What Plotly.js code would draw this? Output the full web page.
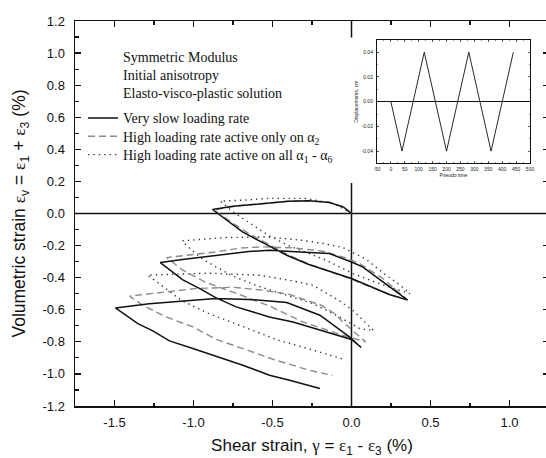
<!DOCTYPE html>
<html>
<head>
<meta charset="utf-8">
<script src="https://cdn.plot.ly/plotly-3.0.1.min.js"></script>
<style>
html,body{margin:0;padding:0;overflow:hidden;background:#fff;}
#chart{width:550px;height:458px;}
</style>
</head>
<body>
<div id="chart"></div>
<script>
// ---------- data: very slow loading rate (solid) ----------
const solidX = [0, -0.05, -0.14, -0.27, -0.40, -0.54, -0.75, -0.88,
  -0.79, -0.69, -0.54, -0.41, -0.27, 0, 0.24, 0.355,
  0.30, 0.07, 0, -0.14, -0.27, -0.52, -0.65, -0.86, -1.07, -1.21,
  -1.15, -1.07, -0.96, -0.86, -0.73, -0.52, -0.37, -0.16, 0, 0.061,
  -0.013, -0.2, -0.41, -0.52, -0.65, -0.86, -1.07, -1.28, -1.494,
  -1.426, -1.352, -1.258, -1.152, -1.004, -0.835, -0.688, -0.519, -0.392, -0.2];
const solidY = [0, 0.04, 0.068, 0.08, 0.076, 0.062, 0.045, 0.025,
  -0.04, -0.115, -0.193, -0.26, -0.318, -0.405, -0.505, -0.54,
  -0.499, -0.333, -0.302, -0.25, -0.243, -0.229, -0.237, -0.26, -0.287, -0.306,
  -0.353, -0.412, -0.468, -0.524, -0.582, -0.645, -0.676, -0.738, -0.785, -0.835,
  -0.769, -0.634, -0.555, -0.545, -0.536, -0.53, -0.545, -0.563, -0.589,
  -0.634, -0.686, -0.732, -0.794, -0.842, -0.898, -0.946, -1.008, -1.039, -1.091];

// ---------- data: high loading rate active only on alpha2 (dashed) ----------
const dashX = [0, -0.05, -0.14, -0.27, -0.40, -0.54, -0.72, -0.87,
  -0.76, -0.65, -0.52, -0.40, -0.27, 0, 0.24, 0.35,
  0.198, 0.051, -0.034, -0.181, -0.37, -0.56, -0.70, -0.856, -1.17,
  -1.068, -0.92, -0.709, -0.50, -0.308, -0.15, -0.055, 0.09,
  0.019, -0.055, -0.108, -0.192, -0.287, -0.392, -0.561, -0.75, -0.99, -1.2, -1.405,
  -1.321, -1.173, -1.004, -0.856, -0.688, -0.477, -0.266, -0.12];
const dashY = [0, 0.042, 0.07, 0.08, 0.076, 0.064, 0.048, 0.022,
  -0.055, -0.125, -0.195, -0.258, -0.315, -0.41, -0.505, -0.535,
  -0.405, -0.312, -0.277, -0.235, -0.214, -0.208, -0.215, -0.239, -0.275,
  -0.353, -0.43, -0.505, -0.585, -0.676, -0.728, -0.759, -0.80,
  -0.738, -0.676, -0.623, -0.572, -0.541, -0.505, -0.478, -0.46, -0.468, -0.49, -0.515,
  -0.572, -0.645, -0.707, -0.785, -0.842, -0.915, -0.977, -1.01];

// ---------- data: high loading rate active on all alpha1 - alpha6 (dotted) ----------
const dotX = [0, -0.11, -0.29, -0.44, -0.54, -0.65, -0.83,
  -0.75, -0.63, -0.52, -0.40, -0.16, 0.008, 0.156, 0.37,
  0.304, 0.219, 0.093, -0.055, -0.18, -0.33, -0.54, -0.8, -1.07,
  -1.046, -0.962, -0.878, -0.75, -0.6, -0.4, -0.245, -0.16, -0.076, 0.051, 0.14,
  0.093, 0.019, -0.065, -0.16, -0.245, -0.371, -0.582, -0.9, -1.29,
  -1.19, -1.08, -0.905, -0.685, -0.465, -0.245, -0.035];
const dotY = [0, 0.062, 0.094, 0.094, 0.094, 0.085, 0.077,
  0.01, -0.07, -0.14, -0.2, -0.291, -0.374, -0.43, -0.50,
  -0.443, -0.385, -0.285, -0.212, -0.187, -0.165, -0.146, -0.15, -0.17,
  -0.198, -0.27, -0.322, -0.39, -0.45, -0.515, -0.561, -0.603, -0.645, -0.717, -0.73,
  -0.686, -0.613, -0.551, -0.495, -0.447, -0.42, -0.385, -0.372, -0.384,
  -0.457, -0.54, -0.623, -0.706, -0.789, -0.851, -0.913];

// ---------- inset: loading history ----------
const insetTime = [0, 40, 120, 200, 280, 360, 440];
const insetDisp = [0, -0.04, 0.04, -0.04, 0.04, -0.04, 0.04];

// ---------- labels ----------
const SERIF = 'Liberation Serif, Times New Roman, serif';
const SANS = 'Liberation Sans, Arial, sans-serif';
const g = s => '<span style="font-family:' + SERIF + '">' + s + '</span>';

const seriesNames = [
  'Very slow loading rate',
  'High loading rate active only on α<sub>2</sub>',
  'High loading rate active on all α<sub>1</sub> - α<sub>6</sub>'
];
const xTickVals = [-1.5, -1.0, -0.5, 0.0, 0.5, 1.0];
const xTickText = ['-1.5', '-1.0', '-0.5', '0.0', '0.5', '1.0'];
const yTickVals = [-1.2, -1.0, -0.8, -0.6, -0.4, -0.2, 0.0, 0.2, 0.4, 0.6, 0.8, 1.0, 1.2];
const yTickText = ['-1.2', '-1.0', '-0.8', '-0.6', '-0.4', '-0.2', '0.0', '0.2', '0.4', '0.6', '0.8', '1.0', '1.2'];
const insetXTickVals = [-50, 0, 50, 100, 150, 200, 250, 300, 350, 400, 450, 500];
const insetXTickText = ['-50', '0', '50', '100', '150', '200', '250', '300', '350', '400', '450', '500'];
const insetYTickVals = [-0.04, -0.02, 0, 0.02, 0.04];
const insetYTickText = ['-0.04', '-0.02', '0.00', '0.02', '0.04'];
const noteLines = ['Symmetric Modulus', 'Initial anisotropy', 'Elasto-visco-plastic solution'];
const xTitle = 'Shear strain, ' + g('γ') + ' = ' + g('ε') + '<sub>1</sub> - ' + g('ε') + '<sub>3</sub> (%)';
const yTitle = 'Volumetric strain ' + g('ε') + '<sub>v</sub> = ' + g('ε') + '<sub>1</sub> + ' + g('ε') + '<sub>3</sub> (%)';

const traces = [
  {x: dotX, y: dotY, mode: 'lines', name: seriesNames[2], legend: 'legend3',
   line: {color: '#3a3a3a', width: 1.4, dash: '1.4px,4px'}, xaxis: 'x', yaxis: 'y'},
  {x: dashX, y: dashY, mode: 'lines', name: seriesNames[1], legend: 'legend2',
   line: {color: '#8a8a8a', width: 1.4, dash: '7px,4px'}, xaxis: 'x', yaxis: 'y'},
  {x: solidX, y: solidY, mode: 'lines', name: seriesNames[0], legend: 'legend',
   line: {color: '#111111', width: 1.5}, xaxis: 'x', yaxis: 'y'},
  {x: insetTime, y: insetDisp, mode: 'lines', showlegend: false,
   line: {color: '#111111', width: 0.9}, xaxis: 'x2', yaxis: 'y2'}
];

const legendBase = {x: 0.0168, xanchor: 'left', yanchor: 'middle',
  bgcolor: 'rgba(0,0,0,0)', borderwidth: 0,
  font: {family: SERIF, size: 14, color: '#111111'}, itemwidth: 30};

const layout = {
  width: 550, height: 458,
  margin: {l: 75, r: 1, t: 21, b: 52, pad: 0, autoexpand: false},
  paper_bgcolor: '#ffffff', plot_bgcolor: '#ffffff',
  font: {family: SANS, color: '#111111', size: 13},
  showlegend: true,
  legend: Object.assign({}, legendBase, {y: 0.7473}),
  legend2: Object.assign({}, legendBase, {y: 0.6995}),
  legend3: Object.assign({}, legendBase, {y: 0.6519}),
  xaxis: {domain: [0, 1], range: [-1.75, 1.25], anchor: 'y', automargin: true,
          tickmode: 'array', tickvals: xTickVals, ticktext: xTickText,
          ticks: 'inside', ticklen: 6, tickwidth: 1.3, tickcolor: '#111',
          showline: true, linecolor: '#111', linewidth: 1.5, mirror: 'ticks',
          showgrid: false, zeroline: false,
          minor: {ticks: 'inside', ticklen: 3.5, tickwidth: 1.1, tickcolor: '#111', tick0: 0, dtick: 0.25, showgrid: false},
          tickfont: {family: SANS, size: 13, color: '#111'}, ticklabelstandoff: 4,
          title: {text: xTitle, font: {family: SANS, size: 17, color: '#111'}, standoff: 17}},
  yaxis: {domain: [0, 1], range: [-1.2, 1.2], anchor: 'x', automargin: true,
          tickmode: 'array', tickvals: yTickVals, ticktext: yTickText,
          ticks: 'inside', ticklen: 6, tickwidth: 1.3, tickcolor: '#111',
          showline: true, linecolor: '#111', linewidth: 1.5, mirror: 'ticks',
          showgrid: false, zeroline: false,
          minor: {ticks: 'inside', ticklen: 3.5, tickwidth: 1.1, tickcolor: '#111', tick0: 0, dtick: 0.1, showgrid: false},
          tickfont: {family: SANS, size: 13, color: '#111'}, ticklabelstandoff: 6,
          title: {text: yTitle, font: {family: SANS, size: 17.5, color: '#111'}, standoff: 12}},
  xaxis2: {domain: [0.637, 0.960], range: [-50, 500], anchor: 'y2',
           tickmode: 'array', tickvals: insetXTickVals, ticktext: insetXTickText,
           ticks: 'inside', ticklen: 2.5, tickwidth: 0.6, tickcolor: '#111',
           showline: true, linecolor: '#111', linewidth: 1, mirror: 'ticks',
           showgrid: false, zeroline: false,
           minor: {ticks: 'inside', ticklen: 1.5, tickwidth: 0.5, tickcolor: '#111', tick0: 0, dtick: 25, showgrid: false},
           tickfont: {family: SANS, size: 5, color: '#222'}, ticklabelstandoff: 1,
           title: {text: 'Pseudo time', font: {family: SANS, size: 5, color: '#222'}, standoff: 2}},
  yaxis2: {domain: [0.630, 0.951], range: [-0.05, 0.05], anchor: 'x2',
           tickmode: 'array', tickvals: insetYTickVals, ticktext: insetYTickText,
           ticks: 'inside', ticklen: 2.5, tickwidth: 0.6, tickcolor: '#111',
           showline: true, linecolor: '#111', linewidth: 1, mirror: 'ticks',
           showgrid: false, zeroline: true, zerolinecolor: '#111', zerolinewidth: 1.1,
           minor: {ticks: 'inside', ticklen: 1.5, tickwidth: 0.5, tickcolor: '#111', tick0: 0, dtick: 0.01, showgrid: false},
           tickfont: {family: SANS, size: 5, color: '#222'}, ticklabelstandoff: 2,
           title: {text: 'Displacements, cm', font: {family: SANS, size: 5, color: '#222'}, standoff: 2}},
  shapes: [
    {type: 'line', layer: 'below', xref: 'x', yref: 'paper', x0: 0, x1: 0, y0: 0, y1: 1,
     line: {color: '#111', width: 1.5}},
    {type: 'line', layer: 'below', xref: 'paper', yref: 'y', x0: 0, x1: 1, y0: 0, y1: 0,
     line: {color: '#111', width: 1.5}},
    {type: 'rect', layer: 'below', xref: 'paper', yref: 'paper', x0: 0.580, x1: 0.985, y0: 0.579, y1: 0.957,
     fillcolor: '#ffffff', line: {width: 0}}
  ],
  annotations: [
    {xref: 'paper', yref: 'paper', x: 0.097, y: 0.858, xanchor: 'left', yanchor: 'middle',
     align: 'left', showarrow: false, text: noteLines.join('<br>'),
     font: {family: SERIF, size: 14, color: '#111'}}
  ]
};

Plotly.newPlot('chart', traces, layout, {displayModeBar: false, staticPlot: true});
</script>
</body>
</html>
